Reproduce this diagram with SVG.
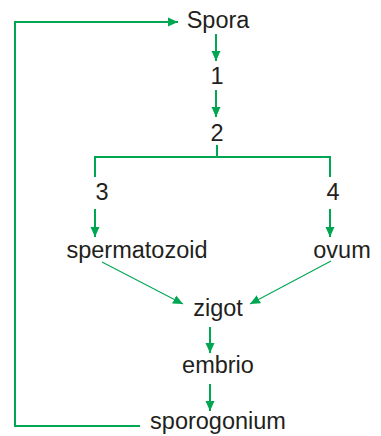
<svg xmlns="http://www.w3.org/2000/svg" width="381" height="436" viewBox="0 0 381 436">
<style>
text{font-family:"Liberation Sans",Arial,sans-serif;font-size:23.5px;fill:#231f20;text-anchor:middle}
.c{stroke:#00a651;fill:none;stroke-width:2}
.t{stroke:#00a651;fill:none;stroke-width:1.1}
</style>
<defs>
<marker id="a" viewBox="0 0 10 10" refX="10" refY="5" markerWidth="10" markerHeight="10" markerUnits="userSpaceOnUse" orient="auto">
<path d="M0,0.5 L10,5 L0,9.5 Z" fill="#00a651"/>
</marker>
</defs>
<rect width="381" height="436" fill="#fff"/>
<g id="connectors">
<path class="c" d="M140,426 H15 V22 H178" marker-end="url(#a)"/>
<path class="c" d="M216,34 V61" marker-end="url(#a)"/>
<path class="c" d="M216,90 V117" marker-end="url(#a)"/>
<path class="c" d="M217,145 V157 M95,177 V157 H330 V177"/>
<path class="c" d="M95,209 V237" marker-end="url(#a)"/>
<path class="c" d="M330,209 V237" marker-end="url(#a)"/>
<path class="t" d="M102,262 L183,304" marker-end="url(#a)"/>
<path class="t" d="M331,261 L250,304" marker-end="url(#a)"/>
<path class="c" d="M210,327 V353" marker-end="url(#a)"/>
<path class="c" d="M210,384 V411" marker-end="url(#a)"/>
</g>
<g id="spora"><text x="218" y="28">Spora</text></g>
<g id="n1"><text x="217" y="84">1</text></g>
<g id="n2"><text x="217" y="141">2</text></g>
<g id="n3"><text x="102" y="200">3</text></g>
<g id="n4"><text x="333" y="200">4</text></g>
<g id="spermatozoid"><text x="137" y="258">spermatozoid</text></g>
<g id="ovum"><text x="342" y="258">ovum</text></g>
<g id="zigot"><text x="218" y="316">zigot</text></g>
<g id="embrio"><text x="218" y="373">embrio</text></g>
<g id="sporogonium"><text x="218" y="429">sporogonium</text></g>
</svg>
